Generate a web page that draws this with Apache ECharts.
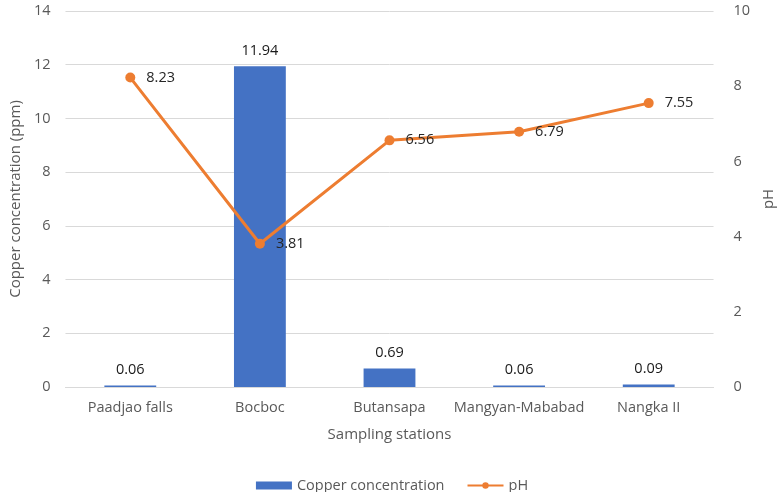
<!DOCTYPE html>
<html><head><meta charset="utf-8">
<script src="https://cdn.jsdelivr.net/npm/echarts@6/dist/echarts.min.js"></script>
<style>html,body{margin:0;padding:0;background:#fff}#c{width:784px;height:492px}</style>
</head><body><div id="c"></div>
<script>
var categories = ['Paadjao falls', 'Bocboc', 'Butansapa', 'Mangyan-Mababad', 'Nangka II'];
var copper = [0.06, 11.94, 0.69, 0.06, 0.09];
var ph = [8.23, 3.81, 6.56, 6.79, 7.55];
var leftTicks = [0, 2, 4, 6, 8, 10, 12, 14];
var rightTicks = [0, 2, 4, 6, 8, 10];
var F = '"Open Sans", "Noto Sans", sans-serif';
var chart = echarts.init(document.getElementById('c'));
chart.setOption({
  animation: false,
  textStyle: {fontFamily: F},
  grid: {left: 61, right: 59, top: 11, bottom: 105},
  legend: {
    top: 473, left: 'center', itemGap: 22, itemWidth: 36, itemHeight: 8,
    textStyle: {color: '#595959', fontSize: 14.5, fontFamily: F},
    data: [{name: 'Copper concentration', icon: 'rect'}, {name: 'pH'}]
  },
  xAxis: {
    type: 'category', data: categories,
    name: 'Sampling stations', nameLocation: 'middle', nameGap: 40,
    nameTextStyle: {color: '#595959', fontSize: 15, fontFamily: F},
    axisLine: {lineStyle: {color: '#d9d9d9'}}, axisTick: {show: false},
    axisLabel: {color: '#595959', fontSize: 14.5, margin: 13, interval: 0}
  },
  yAxis: [{
    type: 'value', min: leftTicks[0], max: leftTicks[leftTicks.length - 1], interval: 2,
    name: 'Copper concentration (ppm)', nameLocation: 'middle', nameGap: 40, nameRotate: 90,
    nameTextStyle: {color: '#595959', fontSize: 15, fontFamily: F},
    axisLine: {show: false}, axisTick: {show: false},
    axisLabel: {color: '#595959', fontSize: 14.5, margin: 15},
    splitLine: {lineStyle: {color: '#d9d9d9'}}
  }, {
    type: 'value', min: rightTicks[0], max: rightTicks[rightTicks.length - 1], interval: 2,
    name: 'pH', nameLocation: 'middle', nameGap: 41, nameRotate: 90,
    nameTextStyle: {color: '#595959', fontSize: 15, fontFamily: F},
    axisLine: {show: false}, axisTick: {show: false},
    axisLabel: {color: '#595959', fontSize: 14.5, margin: 20},
    splitLine: {show: false}
  }],
  series: [{
    name: 'Copper concentration', type: 'bar', data: copper, barWidth: '40%',
    itemStyle: {color: '#4472c4'},
    label: {show: true, position: 'top', distance: 8, color: '#1a1a1a', fontSize: 14.5,
      formatter: function(p){ return p.value.toFixed(2); }}
  }, {
    name: 'pH', type: 'line', yAxisIndex: 1, data: ph,
    symbol: 'circle', symbolSize: 10,
    lineStyle: {color: '#ed7d31', width: 3}, itemStyle: {color: '#ed7d31'},
    label: {show: true, position: 'right', distance: 11, color: '#262626', fontSize: 14.5,
      formatter: function(p){ return p.value.toFixed(2); }}
  }]
});
</script></body></html>
